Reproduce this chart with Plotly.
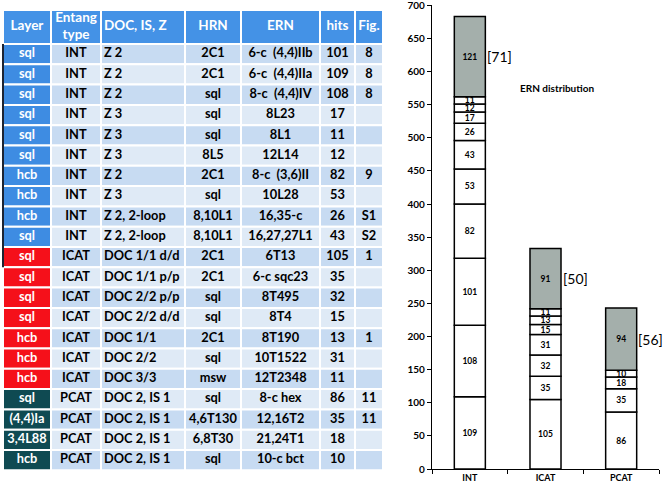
import plotly.graph_objects as go

# ---------------- table data ----------------
header = ["Layer", "Entang<br>type", "DOC, IS, Z", "HRN", "ERN", "hits", "Fig."]
layers = ["sql", "sql", "sql", "sql", "sql", "sql", "hcb", "hcb", "hcb", "sql",
          "sql", "sql", "sql", "sql", "hcb", "hcb", "hcb",
          "sql", "(4,4)Ia", "3,4L88", "hcb"]
entang = ["INT"] * 10 + ["ICAT"] * 7 + ["PCAT"] * 4
doc = ["Z 2", "Z 2", "Z 2", "Z 3", "Z 3", "Z 3", "Z 2", "Z 3", "Z 2, 2-loop", "Z 2, 2-loop",
       "DOC 1/1 d/d", "DOC 1/1 p/p", "DOC 2/2 p/p", "DOC 2/2 d/d", "DOC 1/1", "DOC 2/2", "DOC 3/3",
       "DOC 2, IS 1", "DOC 2, IS 1", "DOC 2, IS 1", "DOC 2, IS 1"]
hrn = ["2C1", "2C1", "sql", "sql", "sql", "8L5", "2C1", "sql", "8,10L1", "8,10L1",
       "2C1", "2C1", "sql", "sql", "2C1", "sql", "msw",
       "sql", "4,6T130", "6,8T30", "sql"]
ern = ["6-c  (4,4)IIb", "6-c  (4,4)IIa", "8-c  (4,4)IV", "8L23", "8L1", "12L14",
       "8-c  (3,6)II", "10L28", "16,35-c", "16,27,27L1",
       "6T13", "6-c sqc23", "8T495", "8T4", "8T190", "10T1522", "12T2348",
       "8-c hex", "12,16T2", "21,24T1", "10-c bct"]
hits = [101, 109, 108, 17, 11, 12, 82, 53, 26, 43,
        105, 35, 32, 15, 13, 31, 11,
        86, 35, 18, 10]
figs = ["8", "8", "8", "", "", "", "9", "", "S1", "S2",
        "1", "", "", "", "1", "", "",
        "11", "11", "", ""]

# ---------------- chart data ----------------
categories = ["INT", "ICAT", "PCAT"]
int_hits = [109, 108, 101, 82, 53, 43, 26, 17, 12, 11]
icat_hits = [105, 35, 32, 31, 15, 13, 11]
pcat_hits = [86, 35, 18, 10]
others = [121, 91, 94]
refs = ["[71]", "[50]", "[56]"]
y_ticks = list(range(0, 701, 50))

# ---------------- styling ----------------
W, H = 664, 486
HEADER_BLUE = "#4492e6"
TYPE_COLORS = {"INT": "#3e8ce2", "ICAT": "#f5101a", "PCAT": "#0f4a52"}
ROW_A, ROW_B = "#c7dbf2", "#dfeaf6"
GRAY = "#a4afab"
FONT = "Lato"

# table geometry (pixel units on a hidden pixel-scaled axis pair)
TAB_X0, TAB_TOP = 3, 10
COL_W = [48, 50, 84, 56, 79, 35, 28]
COL_ALIGN = ["center", "center", "left", "center", "center", "center", "center"]
HEAD_H, ROW_H = 34, 20.3
TAB_AXIS_W = 390

n = len(layers)
row_fill = [ROW_A if i % 2 == 0 else ROW_B for i in range(n)]
layer_fill = [TYPE_COLORS[t] for t in entang]
columns = [layers, entang, doc, hrn, ern, [str(h) for h in hits], figs]
col_fills = [layer_fill] + [row_fill] * 6
col_text_colors = [["white"] * n] + [["black"] * n] * 6

head_center = TAB_TOP + HEAD_H / 2
row_centers = [TAB_TOP + HEAD_H + (i + 0.5) * ROW_H for i in range(n)]

fig = go.Figure()

left = TAB_X0
for j, vals in enumerate(columns):
    w = COL_W[j]
    # cell backgrounds: horizontal bars spanning the column
    fig.add_trace(go.Bar(
        orientation="h",
        y=[head_center] + row_centers,
        x=[w] * (n + 1),
        base=[left] * (n + 1),
        width=[HEAD_H] + [ROW_H] * n,
        marker=dict(color=[HEADER_BLUE] + col_fills[j],
                    line=dict(color="white", width=2)),
        xaxis="x2", yaxis="y2",
        showlegend=False, hoverinfo="skip",
    ))
    if COL_ALIGN[j] == "left":
        tx, tpos = left + 3, "middle right"
    else:
        tx, tpos = left + w / 2, "middle center"
    fig.add_trace(go.Scatter(
        x=[tx] * (n + 1),
        y=[head_center] + row_centers,
        mode="text",
        text=[header[j]] + vals,
        textposition=tpos,
        textfont=dict(family=FONT, size=[13.5] + [12.8] * n,
                      color=["white"] + col_text_colors[j], weight="bold"),
        xaxis="x2", yaxis="y2",
        showlegend=False, hoverinfo="skip",
    ))
    left += w

# dark left border of the upper part of the table
fig.add_shape(type="line", xref="x2", yref="y2",
              x0=TAB_X0, x1=TAB_X0,
              y0=TAB_TOP + HEAD_H, y1=TAB_TOP + HEAD_H + 11 * ROW_H,
              line=dict(color="#1c2433", width=2))

# ---------------- stacked bars ----------------
groups = [int_hits, icat_hits, pcat_hits]
for cat, segs, oth, ref in zip(categories, groups, others, refs):
    vals = segs + [oth]
    bases = []
    acc = 0
    for v in vals:
        bases.append(acc)
        acc += v
    colors = ["white"] * len(segs) + [GRAY]
    fig.add_trace(go.Bar(
        x=[cat] * len(vals), y=vals, base=bases,
        marker=dict(color=colors, line=dict(color="black", width=1.5)),
        width=0.41,
        text=["<b>%d</b>" % v for v in vals],
        textposition="inside", insidetextanchor="middle", textangle=0,
        constraintext="none",
        textfont=dict(family=FONT, size=8.5, color="black"),
        showlegend=False, hoverinfo="skip",
    ))
    fig.add_annotation(
        x=cat, y=sum(segs) + oth / 2, xref="x", yref="y",
        text=ref, showarrow=False, xanchor="left", yanchor="middle",
        xshift=16, borderpad=0, font=dict(family=FONT, size=14, color="black"),
    )

fig.add_annotation(
    x=557 / W, y=1 - 88 / H, xref="paper", yref="paper",
    xanchor="center", yanchor="middle",
    text="<b>ERN distribution</b>", showarrow=False,
    font=dict(family=FONT, size=10, color="black"),
)

fig.update_layout(
    width=W, height=H,
    margin=dict(l=0, r=0, t=0, b=0, autoexpand=False),
    paper_bgcolor="white", plot_bgcolor="rgba(0,0,0,0)",
    barmode="overlay",
    xaxis=dict(
        domain=[432 / W, 659 / W], type="category", range=[-0.5, 2.5],
        automargin=False,
        showline=True, linecolor="black", linewidth=1.2,
        ticks="outside", ticklen=4, tickcolor="black", tickson="boundaries",
        showgrid=False,
        tickfont=dict(family=FONT, size=9, color="black", weight="bold"),
    ),
    yaxis=dict(
        domain=[17 / H, 1 - 5 / H], range=[0, 700.5],
        automargin=False, ticklabeloverflow="allow",
        tickvals=y_ticks,
        showline=True, linecolor="black", linewidth=1.2,
        ticks="outside", ticklen=4, tickcolor="black",
        showgrid=False, zeroline=False,
        tickfont=dict(family=FONT, size=10, color="black", weight="bold"),
    ),
    xaxis2=dict(domain=[0, TAB_AXIS_W / W], range=[0, TAB_AXIS_W],
                visible=False, automargin=False, fixedrange=True),
    yaxis2=dict(domain=[0, 1], range=[H, 0], anchor="x2",
                visible=False, automargin=False, fixedrange=True),
)

fig.write_html("out.html",
               config={"displayModeBar": False},
               post_script="document.body.style.margin='0';document.body.style.padding='0';")
